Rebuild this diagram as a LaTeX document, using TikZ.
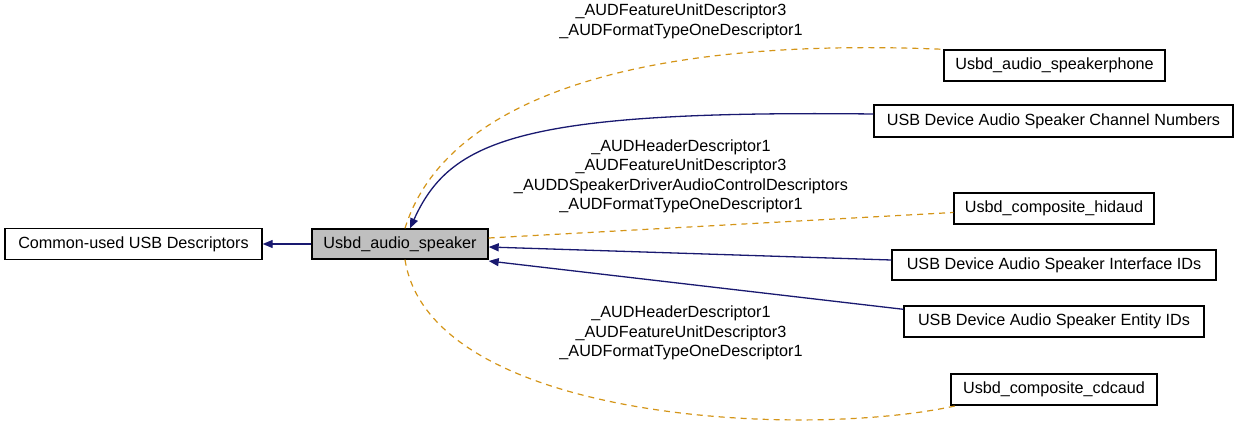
\documentclass[tikz,border=0pt]{standalone}
\usepackage{fontspec}
\setmainfont{Liberation Sans}
\usetikzlibrary{arrows.meta}
\definecolor{edgeblue}{HTML}{191970}
\definecolor{edgeorange}{HTML}{D49518}
\definecolor{groupgray}{HTML}{BFBFBF}
\begin{document}
\begin{tikzpicture}[
    x=1pt, y=-1pt,
    grp/.style={rectangle, draw=black, line width=1.4pt, inner sep=0pt, font=\fontsize{16.2}{19.5}\selectfont},
    cur/.style={grp, fill=groupgray},
    lbl/.style={align=center, inner sep=0pt, font=\fontsize{16.2}{19.5}\selectfont},
    dep/.style={edgeorange, line width=1.2pt, dash pattern=on 6pt off 5pt},
    >={Triangle[length=10pt,width=8pt]}
]
    \useasboundingbox (0,0) rectangle (1240,425);

    % Groups
    \node[grp, minimum width=257, minimum height=31] (common) at (133.5,244)  {Common-used USB Descriptors};
    \node[cur, minimum width=176, minimum height=30] (spk)    at (400,244)    {Usbd\_audio\_speaker};
    \node[grp, minimum width=221, minimum height=31] (phone)  at (1054.5,65.5) {Usbd\_audio\_speakerphone};
    \node[grp, minimum width=359, minimum height=32] (chan)   at (1053.5,121) {USB Device Audio Speaker Channel Numbers};
    \node[grp, minimum width=200, minimum height=31] (hid)    at (1054,208.5) {Usbd\_composite\_hidaud};
    \node[grp, minimum width=324, minimum height=30] (iface)  at (1054,265)   {USB Device Audio Speaker Interface IDs};
    \node[grp, minimum width=300, minimum height=31] (ent)    at (1054,321.5) {USB Device Audio Speaker Entity IDs};
    \node[grp, minimum width=206, minimum height=31] (cdc)    at (1054,389.5) {Usbd\_composite\_cdcaud};

    % Member groups
    \draw[->, edgeblue, line width=1.3pt] (spk.west) -- (common.east);
    \draw[->, edgeblue, line width=1.3pt] ([yshift=7pt]chan.west) .. controls (520,110) and (450,140) .. ([xshift=10pt]spk.north);
    \draw[->, edgeblue, line width=1.3pt] ([yshift=5pt]iface.west) -- ([yshift=-3pt]spk.east);
    \draw[->, edgeblue, line width=1.3pt] ([yshift=-4pt]ent.north west) -- ([yshift=-17pt]spk.east);

    % Shared descriptors
    \draw[dep] ([xshift=5pt]spk.north) .. controls (440,115) and (600,35) .. (phone.north west);
    \draw[dep] ([yshift=6pt]spk.east) -- ([yshift=-4pt]hid.west);
    \draw[dep] ([xshift=5pt]spk.south) .. controls (430,420) and (800,440) .. ([xshift=6pt]cdc.south west);

    % Labels
    \node[lbl] (toplbl) at (681,21.5) {\_AUDFeatureUnitDescriptor3\\\_AUDFormatTypeOneDescriptor1};
    \node[lbl] (midlbl) at (681,176.5) {\_AUDHeaderDescriptor1\\\_AUDFeatureUnitDescriptor3\\\_AUDDSpeakerDriverAudioControlDescriptors\\\_AUDFormatTypeOneDescriptor1};
    \node[lbl] (botlbl) at (681,333) {\_AUDHeaderDescriptor1\\\_AUDFeatureUnitDescriptor3\\\_AUDFormatTypeOneDescriptor1};
\end{tikzpicture}
\end{document}
